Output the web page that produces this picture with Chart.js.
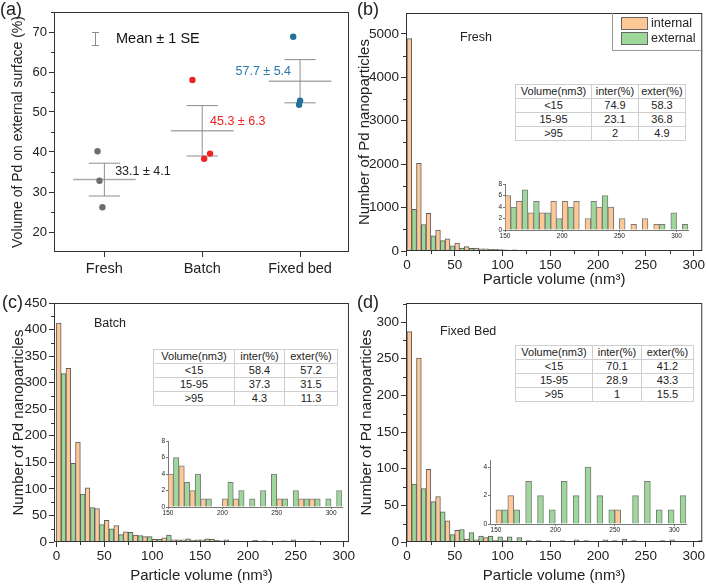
<!DOCTYPE html>
<html>
<head>
<meta charset="UTF-8" />
<title>Pd nanoparticles on external surface</title>
<script src="https://cdn.jsdelivr.net/npm/chart.js"></script>
<style>
  body { margin: 0; background: #fff; }
  #page { position: relative; width: 706px; height: 586px; overflow: hidden; font-family: "Liberation Sans", Arial, sans-serif; color: #222; }
  canvas { position: absolute; }
  .lbl { position: absolute; white-space: nowrap; line-height: 1; }
  .letter { font-size: 18px; }
  .tag { font-size: 12.5px; }
  table { position: absolute; border-collapse: collapse; font-size: 11px; background: #fff; border: 1px solid #8a8a8a; table-layout: fixed; }
  td { border: 1px solid #cfcfcf; text-align: center; padding: 0; height: 13px; line-height: 13px; }
  #legend { position: absolute; left: 612px; top: 13px; width: 90px; height: 37px; border-left: 1px solid #999; border-bottom: 1px solid #999; }
  .sw { position: absolute; left: 8px; width: 25px; height: 11px; border: 1px solid #666; }
  .lt { position: absolute; left: 38px; font-size: 12.5px; line-height: 1; }
</style>
</head>
<body>
<div id="page">
  <canvas id="chartA" width="353" height="293" style="left:0;top:0"></canvas>
  <canvas id="chartB" width="353" height="293" style="left:353px;top:0"></canvas>
  <canvas id="chartC" width="356" height="296" style="left:0;top:290px"></canvas>
  <canvas id="chartD" width="353" height="296" style="left:353px;top:290px"></canvas>
  <canvas id="insetB" width="210" height="65" style="left:485px;top:178px"></canvas>
  <canvas id="insetC" width="200" height="86" style="left:148px;top:434px"></canvas>
  <canvas id="insetD" width="222" height="84" style="left:470px;top:453px"></canvas>

  <div class="lbl letter" style="left:0;top:0">(a)</div>
  <div class="lbl letter" style="left:357px;top:0">(b)</div>
  <div class="lbl letter" style="left:2px;top:293px">(c)</div>
  <div class="lbl letter" style="left:357px;top:293px">(d)</div>
  <div class="lbl tag" style="left:460px;top:31px">Fresh</div>
  <div class="lbl tag" style="left:94px;top:317px">Batch</div>
  <div class="lbl tag" style="left:440px;top:325px">Fixed Bed</div>

  <div id="legend">
    <div class="sw" style="top:4px;background:#fdc896"></div><div class="lt" style="top:4px">internal</div>
    <div class="sw" style="top:19px;background:#9dd89a"></div><div class="lt" style="top:19px">external</div>
  </div>

  <table id="tableB" style="left:515px;top:84px;width:170px"><colgroup><col style="width:76px"><col style="width:47px"><col style="width:47px"></colgroup></table>
  <table id="tableC" style="left:153px;top:349px;width:184px"><colgroup><col style="width:81px"><col style="width:50px"><col style="width:53px"></colgroup></table>
  <table id="tableD" style="left:515px;top:345px;width:178px"><colgroup><col style="width:77px"><col style="width:49px"><col style="width:52px"></colgroup></table>
</div>
<script>
  const FONT = '"Liberation Sans", Arial, sans-serif';
  Chart.defaults.font.family = FONT;
  Chart.defaults.color = '#222';
  Chart.defaults.animation = false;

  // panel (a): share of Pd volume on the external surface
  const categories = ['Fresh', 'Batch', 'Fixed bed'];
  const catColors = ['#6d6d6d', '#ee2424', '#20729a'];
  const labelColors = ['#222222', '#ee2424', '#2a7ab0'];
  const pointX = [[0.93, 0.95, 0.98], [1.90, 2.02, 2.08], [2.93, 2.99, 3.00]];
  const pointY = [[40.2, 32.8, 26.2], [58.0, 38.3, 39.6], [68.8, 51.8, 52.8]];
  const means = [33.1, 45.3, 57.7];
  const ses = [4.1, 6.3, 5.4];
  const yTicksA = [20, 30, 40, 50, 60, 70];

  // histograms: 10 nm3 bins starting at 0
  const binStarts = [0, 10, 20, 30, 40, 50, 60, 70, 80, 90, 100, 110, 120, 130, 140, 150,
    160, 170, 180, 190, 200, 210, 220, 230, 240, 250, 260, 270, 280, 290, 300];
  const freshInternal = [4890, 2020, 870, 480, 280, 180, 100, 70, 50, 40, 25, 25, 15, 12, 8,
    6, 5, 3, 3, 5, 5, 5, 2, 4, 4, 2, 1, 2, 1, 0, 0];
  const freshExternal = [960, 610, 350, 240, 120, 70, 60, 50, 40, 30, 20, 15, 12, 8, 6,
    4, 7, 5, 3, 2, 4, 0, 5, 6, 0, 0, 0, 0, 1, 3, 1];
  const batchInternal = [412, 327, 188, 102, 63, 41, 31, 19, 13, 10, 5, 8, 4, 4, 3,
    4, 5, 2, 1, 0, 1, 1, 0, 0, 0, 1, 0, 1, 1, 0, 0];
  const batchExternal = [317, 148, 90, 65, 33, 25, 14, 18, 12, 10, 5, 13, 4, 6, 4,
    6, 3, 4, 1, 0, 3, 2, 1, 2, 4, 1, 2, 1, 1, 1, 2];
  const fixedInternal = [287, 251, 99, 62, 29, 16, 4, 3, 6, 2, 2, 1, 0, 0, 0,
    1, 2, 0, 0, 0, 0, 0, 0, 0, 0, 1, 0, 0, 0, 0, 0];
  const fixedExternal = [79, 73, 55, 41, 10, 17, 13, 8, 8, 7, 7, 6, 2, 2, 1,
    1, 1, 3, 2, 1, 3, 2, 4, 2, 1, 0, 2, 3, 1, 1, 2];
  const insetFrom = 15; // insets show the bins from 150 nm3 on

  const xTicksMain = [0, 50, 100, 150, 200, 250, 300];
  const xTicksInset = [150, 200, 250, 300];
  const yTicksB = [0, 1000, 2000, 3000, 4000, 5000];
  const yTicksC = [0, 50, 100, 150, 200, 250, 300, 350, 400, 450];
  const yTicksD = [0, 50, 100, 150, 200, 250, 300];
  const yTicksInset8 = [0, 2, 4, 6, 8];
  const yTicksInset4 = [0, 2, 4];

  const tableHead = ['Volume(nm3)', 'inter(%)', 'exter(%)'];
  const tableRanges = ['<15', '15-95', '>95'];
  const freshInterPct = [74.9, 23.1, 2];
  const freshExterPct = [58.3, 36.8, 4.9];
  const batchInterPct = [58.4, 37.3, 4.3];
  const batchExterPct = [57.2, 31.5, 11.3];
  const fixedInterPct = [70.1, 28.9, 1];
  const fixedExterPct = [41.2, 43.3, 15.5];

  const ORANGE = '#fdc896', GREEN = '#9dd89a', EDGE = '#5e5e5e', AXIS = '#333';

  function tickList(list) { return scale => { scale.ticks = list.map(v => ({ value: v })); }; }
  function halfSteps(list) {
    const out = [];
    for (let i = 0; i < list.length - 1; i++) out.push((list[i] + list[i + 1]) / 2);
    out.push(list[list.length - 1] + (list[1] - list[0]) / 2);
    return out;
  }
  function binData(counts) { return counts.map((c, i) => ({ x: binStarts[i] + 5, y: c })); }
  function insetData(counts) { return binData(counts).slice(insetFrom); }

  // box around the plot area
  const framePlugin = {
    id: 'frame',
    afterDatasetsDraw(chart) {
      const { ctx, chartArea: a } = chart;
      ctx.save();
      ctx.strokeStyle = AXIS; ctx.lineWidth = 1;
      ctx.strokeRect(a.left + 0.5, a.top + 0.5, a.right - a.left - 1, a.bottom - a.top - 1);
      ctx.restore();
    }
  };
  // small ticks between the labelled ones
  const minorPlugin = {
    id: 'minor',
    afterDraw(chart, args, opts) {
      const { ctx, scales: { x, y }, chartArea: a } = chart;
      ctx.save();
      ctx.strokeStyle = AXIS; ctx.lineWidth = 1;
      ctx.beginPath();
      (opts.x || []).forEach(v => {
        if (v < x.min || v > x.max) return;
        const p = Math.round(x.getPixelForValue(v)) + 0.5;
        ctx.moveTo(p, a.bottom); ctx.lineTo(p, a.bottom + 3);
      });
      (opts.y || []).forEach(v => {
        if (v < y.min || v > y.max) return;
        const p = Math.round(y.getPixelForValue(v)) + 0.5;
        ctx.moveTo(a.left, p); ctx.lineTo(a.left - 3, p);
      });
      ctx.stroke();
      ctx.restore();
    }
  };

  function outerTicks() {
    return { drawOnChartArea: false, drawTicks: true, tickLength: 5, color: AXIS, lineWidth: 1, offset: false };
  }

  function histogram(id, internal, external, cfg) {
    return new Chart(document.getElementById(id), {
      type: 'bar',
      data: {
        datasets: [
          { label: 'internal', data: binData(internal), backgroundColor: ORANGE, borderColor: EDGE,
            borderWidth: 1, barPercentage: 1, categoryPercentage: 1 },
          { label: 'external', data: binData(external), backgroundColor: GREEN, borderColor: EDGE,
            borderWidth: 1, barPercentage: 1, categoryPercentage: 1 }
        ]
      },
      options: {
        responsive: false,
        layout: { padding: cfg.pad },
        plugins: {
          legend: { display: false }, tooltip: { enabled: false },
          minor: { x: halfSteps(xTicksMain), y: halfSteps(cfg.yTicks) }
        },
        scales: {
          x: {
            type: 'linear', min: cfg.xMin, max: cfg.xMax, offset: false,
            afterBuildTicks: tickList(xTicksMain),
            afterFit: s => { s.height = cfg.xH; },
            ticks: { font: { size: 13.5 }, padding: 1, maxRotation: 0, autoSkip: false, callback: v => String(v) },
            grid: outerTicks(),
            border: { display: false },
            title: { display: true, text: 'Particle volume (nm³)', font: { size: 15 }, padding: { top: 0, bottom: cfg.xTitlePad } }
          },
          y: {
            min: 0, max: cfg.yMax,
            afterBuildTicks: tickList(cfg.yTicks),
            afterFit: s => { s.width = cfg.yW; },
            ticks: { font: { size: 13.5 }, padding: 2, callback: v => String(v) },
            grid: outerTicks(),
            border: { display: false },
            title: { display: true, text: 'Number of Pd nanoparticles', font: { size: 15 }, padding: { top: cfg.yTitlePad, bottom: 0 } }
          }
        }
      },
      plugins: [framePlugin, minorPlugin]
    });
  }

  function inset(id, internal, external, cfg) {
    const small = { drawOnChartArea: false, drawTicks: true, tickLength: 2, color: '#777', offset: false };
    return new Chart(document.getElementById(id), {
      type: 'bar',
      data: {
        datasets: [
          { data: insetData(internal), backgroundColor: ORANGE, borderColor: '#7a7a7a',
            borderWidth: 1, barPercentage: 1, categoryPercentage: 1 },
          { data: insetData(external), backgroundColor: GREEN, borderColor: '#7a7a7a',
            borderWidth: 1, barPercentage: 1, categoryPercentage: 1 }
        ]
      },
      options: {
        responsive: false,
        layout: { padding: cfg.pad },
        plugins: { legend: { display: false }, tooltip: { enabled: false } },
        scales: {
          x: {
            type: 'linear', min: cfg.xMin, max: 310, offset: false,
            afterBuildTicks: tickList(xTicksInset),
            afterFit: s => { s.height = cfg.xH; },
            ticks: { font: { size: 6.5 }, padding: 0, maxRotation: 0, autoSkip: false, callback: v => String(v) },
            grid: small,
            border: { display: true, color: '#777' }
          },
          y: {
            min: 0, max: cfg.yMax,
            afterBuildTicks: tickList(cfg.yTicks),
            afterFit: s => { s.width = cfg.yW; },
            ticks: { font: { size: 6.5 }, padding: 1, callback: v => String(v) },
            grid: small,
            border: { display: true, color: '#777' }
          }
        }
      }
    });
  }

  // mean line, +-1 SE whiskers, value labels and the "Mean ± 1 SE" key
  const meanPlugin = {
    id: 'meanSE',
    beforeDatasetsDraw(chart) {
      const { ctx, scales: { x, y } } = chart;
      const px = v => x.getPixelForValue(v), py = v => y.getPixelForValue(v);
      ctx.save();
      means.forEach((m, i) => {
        const c = i + 1, lo = m - ses[i], hi = m + ses[i];
        ctx.strokeStyle = '#ababab'; ctx.lineWidth = 1.5;
        ctx.beginPath(); ctx.moveTo(px(c - 0.32), py(m)); ctx.lineTo(px(c + 0.32), py(m)); ctx.stroke();
        ctx.strokeStyle = '#8e8e8e'; ctx.lineWidth = 1;
        ctx.beginPath();
        ctx.moveTo(px(c), py(lo)); ctx.lineTo(px(c), py(hi));
        [lo, hi].forEach(v => { ctx.moveTo(px(c - 0.16), py(v)); ctx.lineTo(px(c + 0.16), py(v)); });
        ctx.stroke();
      });
      ctx.restore();
    },
    afterDatasetsDraw(chart, args, opts) {
      const { ctx, scales: { x, y }, chartArea: a } = chart;
      ctx.save();
      ctx.textBaseline = 'middle';
      ctx.font = '12.5px ' + FONT;
      opts.labelAt.forEach((p, i) => {
        ctx.fillStyle = labelColors[i];
        ctx.fillText(means[i].toFixed(1) + ' ± ' + ses[i].toFixed(1), x.getPixelForValue(p[0]), y.getPixelForValue(p[1]));
      });
      const kx = a.left + 41.5, ky = a.top + 20;
      ctx.strokeStyle = '#8e8e8e'; ctx.lineWidth = 1;
      ctx.beginPath();
      ctx.moveTo(kx, ky); ctx.lineTo(kx, ky + 14);
      ctx.moveTo(kx - 3.5, ky + 0.5); ctx.lineTo(kx + 3.5, ky + 0.5);
      ctx.moveTo(kx - 3.5, ky + 13.5); ctx.lineTo(kx + 3.5, ky + 13.5);
      ctx.stroke();
      ctx.fillStyle = '#111';
      ctx.font = '14.5px ' + FONT;
      ctx.fillText('Mean ± 1 SE', a.left + 62, ky + 7);
      ctx.restore();
    }
  };

  new Chart(document.getElementById('chartA'), {
    type: 'scatter',
    data: {
      datasets: categories.map((c, i) => ({
        label: c,
        data: pointX[i].map((px, j) => ({ x: px, y: pointY[i][j] })),
        backgroundColor: catColors[i], borderColor: catColors[i], pointRadius: 3.2, borderWidth: 0
      }))
    },
    options: {
      responsive: false,
      layout: { padding: { top: 12, right: 1, left: 0, bottom: 0 } },
      plugins: {
        legend: { display: false }, tooltip: { enabled: false },
        minor: { y: halfSteps(yTicksA) },
        meanSE: { labelAt: [[1.11, 35.0], [2.08, 47.5], [2.34, 60.0]] }
      },
      scales: {
        x: {
          type: 'linear', min: 0.485, max: 3.5,
          afterBuildTicks: tickList([1, 2, 3]),
          afterFit: s => { s.height = 41; },
          ticks: { font: { size: 14.5 }, padding: 3, autoSkip: false, maxRotation: 0, callback: v => categories[v - 1] },
          grid: outerTicks(),
          border: { display: false }
        },
        y: {
          min: 15, max: 75,
          afterBuildTicks: tickList(yTicksA),
          afterFit: s => { s.width = 54; },
          ticks: { font: { size: 13 }, padding: 2, callback: v => String(v) },
          grid: outerTicks(),
          border: { display: false },
          title: { display: true, text: 'Volume of Pd on external surface (%)', font: { size: 14 }, padding: { top: 10, bottom: 0 } }
        }
      }
    },
    plugins: [meanPlugin, framePlugin, minorPlugin]
  });

  histogram('chartB', freshInternal, freshExternal, {
    pad: { top: 13, right: 3, left: 0, bottom: 0 }, xMin: -1, xMax: 309, xH: 42, yW: 53,
    yMax: 5480, yTicks: yTicksB, xTitlePad: 4, yTitlePad: 3
  });
  histogram('chartC', batchInternal, batchExternal, {
    pad: { top: 13, right: 3, left: 0, bottom: 0 }, xMin: -2.5, xMax: 305.5, xH: 44, yW: 54,
    yMax: 450, yTicks: yTicksC, xTitlePad: 1, yTitlePad: 10
  });
  histogram('chartD', fixedInternal, fixedExternal, {
    pad: { top: 13, right: 3, left: 0, bottom: 0 }, xMin: -1, xMax: 309, xH: 44, yW: 53,
    yMax: 326, yTicks: yTicksD, xTitlePad: 1, yTitlePad: 5
  });

  inset('insetB', freshInternal, freshExternal, {
    pad: { top: 6, right: 7, left: 0, bottom: 0 }, xMin: 150, xH: 13, yW: 20, yMax: 8, yTicks: yTicksInset8
  });
  inset('insetC', batchInternal, batchExternal, {
    pad: { top: 7, right: 6, left: 0, bottom: 0 }, xMin: 150, xH: 13, yW: 20, yMax: 8, yTicks: yTicksInset8
  });
  inset('insetD', fixedInternal, fixedExternal, {
    pad: { top: 7, right: 6, left: 0, bottom: 0 }, xMin: 145, xH: 13, yW: 20, yMax: 4.5, yTicks: yTicksInset4
  });

  function buildTable(id, inter, exter) {
    const t = document.getElementById(id);
    const head = t.insertRow();
    tableHead.forEach(h => { head.insertCell().textContent = h; });
    tableRanges.forEach((r, i) => {
      const row = t.insertRow();
      [r, inter[i], exter[i]].forEach(v => { row.insertCell().textContent = String(v); });
    });
  }
  buildTable('tableB', freshInterPct, freshExterPct);
  buildTable('tableC', batchInterPct, batchExterPct);
  buildTable('tableD', fixedInterPct, fixedExterPct);
</script>
</body>
</html>
